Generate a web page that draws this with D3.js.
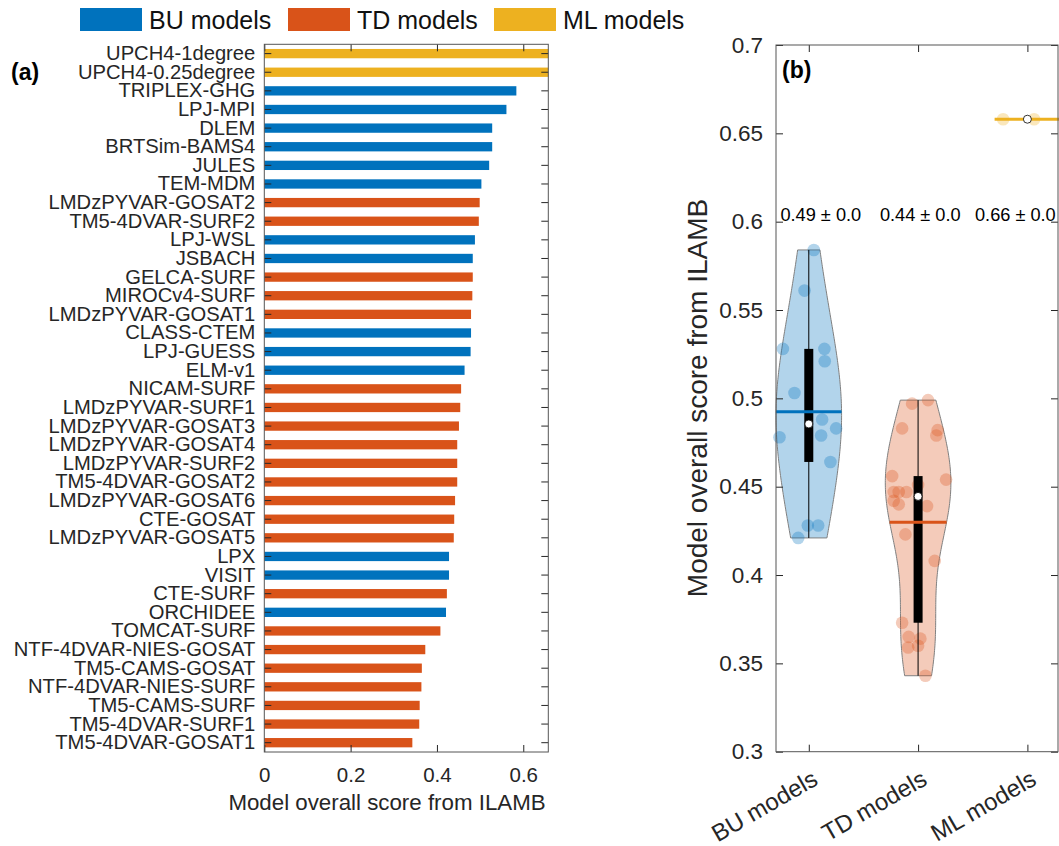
<!DOCTYPE html>
<html>
<head>
<meta charset="utf-8">
<script src="https://cdn.jsdelivr.net/npm/d3@7"></script>
<style>
body { margin: 0; background: #fff; }
svg { font-family: "Liberation Sans", Arial, Helvetica, sans-serif; }
</style>
</head>
<body>
<svg id="mainsvg" width="1059" height="846"></svg>
<script>
// model names, top to bottom as in panel (a)
var models = ['UPCH4-1degree', 'UPCH4-0.25degree', 'TRIPLEX-GHG', 'LPJ-MPI', 'DLEM', 'BRTSim-BAMS4',
	'JULES', 'TEM-MDM', 'LMDzPYVAR-GOSAT2', 'TM5-4DVAR-SURF2', 'LPJ-WSL', 'JSBACH', 'GELCA-SURF',
	'MIROCv4-SURF', 'LMDzPYVAR-GOSAT1', 'CLASS-CTEM', 'LPJ-GUESS', 'ELM-v1', 'NICAM-SURF',
	'LMDzPYVAR-SURF1', 'LMDzPYVAR-GOSAT3', 'LMDzPYVAR-GOSAT4', 'LMDzPYVAR-SURF2', 'TM5-4DVAR-GOSAT2',
	'LMDzPYVAR-GOSAT6', 'CTE-GOSAT', 'LMDzPYVAR-GOSAT5', 'LPX', 'VISIT', 'CTE-SURF', 'ORCHIDEE',
	'TOMCAT-SURF', 'NTF-4DVAR-NIES-GOSAT', 'TM5-CAMS-GOSAT', 'NTF-4DVAR-NIES-SURF', 'TM5-CAMS-SURF',
	'TM5-4DVAR-SURF1', 'TM5-4DVAR-GOSAT1'];
var scores = [0.658, 0.658, 0.584, 0.561, 0.528, 0.528,
	0.521, 0.503, 0.499, 0.497, 0.488, 0.483, 0.483,
	0.482, 0.479, 0.479, 0.478, 0.464, 0.456,
	0.454, 0.451, 0.447, 0.447, 0.447,
	0.442, 0.440, 0.439, 0.428, 0.428, 0.423, 0.421,
	0.408, 0.373, 0.365, 0.364, 0.360,
	0.359, 0.343];
var groups = ['ML', 'ML', 'BU', 'BU', 'BU', 'BU',
	'BU', 'BU', 'TD', 'TD', 'BU', 'BU', 'TD',
	'TD', 'TD', 'BU', 'BU', 'BU', 'TD',
	'TD', 'TD', 'TD', 'TD', 'TD',
	'TD', 'TD', 'TD', 'BU', 'BU', 'TD', 'BU',
	'TD', 'TD', 'TD', 'TD', 'TD',
	'TD', 'TD'];
// horizontal scatter offset of each model's dot in panel (b)
var jitter = [0.061, -0.222, 0.046, -0.039, -0.237, 0.143,
	0.146, -0.131, 0.091, -0.055, 0.122, 0.25, -0.146,
	0.179, 0.167, 0.113, -0.268, 0.198, -0.237,
	0.256, 0.0, -0.223, -0.177, -0.107,
	-0.223, -0.177, 0.082, -0.009, 0.086, -0.116, -0.097,
	0.152, -0.146, -0.086, 0.021, 0.0,
	-0.091, 0.067];

var groupKeys = ['BU', 'TD', 'ML'];
var groupNames = ['BU models', 'TD models', 'ML models'];
var groupStats = ['0.49 \u00b1 0.0', '0.44 \u00b1 0.0', '0.66 \u00b1 0.0'];
var xTicksA = [0, 0.2, 0.4, 0.6];
var yTicksB = [0.3, 0.35, 0.4, 0.45, 0.5, 0.55, 0.6, 0.65, 0.7];

var colors = {BU: '#0072BD', TD: '#D95319', ML: '#EDB120'};
var textColor = '#262626';
var boxColor = '#555';

var svg = d3.select('#mainsvg');

// legend
var legendX = [80, 288, 494];
var legend = svg.append('g');
groupKeys.forEach(function(k, i) {
	legend.append('rect')
		.attr('x', legendX[i]).attr('y', 8)
		.attr('width', 62).attr('height', 23)
		.attr('fill', colors[k]);
	legend.append('text')
		.attr('x', legendX[i] + 69).attr('y', 29)
		.attr('font-size', 25)
		.attr('fill', '#111')
		.text(groupNames[i]);
});

// ---------- panel (a) ----------
var ax = {left: 264.3, right: 548.3, top: 44.3, bottom: 752};
var xA = d3.scaleLinear().domain([0, d3.max(scores)]).range([ax.left, ax.right]);
var yA = d3.scaleBand().domain(models).range([ax.top, ax.bottom]).paddingInner(0.5).paddingOuter(0.25);

var pa = svg.append('g');
pa.selectAll('.bar')
	.data(models)
	.enter()
	.append('rect')
	.attr('class', 'bar')
	.attr('x', xA(0))
	.attr('y', function(d) {return yA(d);})
	.attr('width', function(d, i) {return xA(scores[i]) - xA(0);})
	.attr('height', yA.bandwidth())
	.attr('fill', function(d, i) {return colors[groups[i]];});

function styleAxis(g, fs) {
	g.select('.domain').remove();
	g.selectAll('.tick line').attr('stroke', textColor);
	g.selectAll('.tick text').attr('fill', textColor).attr('font-size', fs);
	g.attr('font-family', null);
}

pa.append('g')
	.attr('transform', 'translate(' + ax.left + ',0)')
	.call(d3.axisLeft(yA).tickSizeInner(-7).tickSizeOuter(0).tickPadding(9))
	.call(styleAxis, 20.2);
pa.append('g')
	.attr('transform', 'translate(' + ax.right + ',0)')
	.call(d3.axisRight(yA).tickSizeInner(-7).tickSizeOuter(0).tickFormat(''))
	.call(styleAxis, 0);
pa.append('g')
	.attr('transform', 'translate(0,' + ax.bottom + ')')
	.call(d3.axisBottom(xA).tickValues(xTicksA).tickSizeInner(-7).tickSizeOuter(0).tickPadding(15)
		.tickFormat(function(d) {return d === 0 ? '0' : d3.format('.1f')(d);}))
	.call(styleAxis, 20.5);
pa.append('g')
	.attr('transform', 'translate(0,' + ax.top + ')')
	.call(d3.axisTop(xA).tickValues(xTicksA).tickSizeInner(-7).tickSizeOuter(0).tickFormat(''))
	.call(styleAxis, 0);
pa.append('rect')
	.attr('x', ax.left).attr('y', ax.top)
	.attr('width', ax.right - ax.left).attr('height', ax.bottom - ax.top)
	.attr('fill', 'none').attr('stroke', boxColor).attr('stroke-width', 1);

pa.append('text')
	.attr('x', 387).attr('y', 810)
	.attr('text-anchor', 'middle')
	.attr('font-size', 22.3)
	.attr('fill', textColor)
	.text('Model overall score from ILAMB');
pa.append('text')
	.attr('x', 11).attr('y', 80)
	.attr('font-size', 23).attr('font-weight', 'bold')
	.attr('fill', '#000')
	.text('(a)');

// ---------- panel (b) ----------
var bx = {left: 776, right: 1058, top: 45, bottom: 751.7};
var xB = d3.scaleLinear().domain([0.7, 3.28]).range([bx.left, bx.right]);
var yB = d3.scaleLinear().domain([0.3, 0.7]).range([bx.bottom, bx.top]);

function mquantile(sorted, p) { // matlab style quantile
	var n = sorted.length;
	var pos = p * n + 0.5;
	if (pos <= 1) return sorted[0];
	if (pos >= n) return sorted[n - 1];
	var lo = Math.floor(pos);
	return sorted[lo - 1] + (pos - lo) * (sorted[lo] - sorted[lo - 1]);
}

function violinShape(vals) { // gaussian kde, ksdensity default bandwidth, cut at data range
	var n = vals.length;
	var med = d3.median(vals);
	var mad = d3.median(vals, function(v) {return Math.abs(v - med);});
	var u = mad / 0.6745 * Math.pow(4 / (3 * n), 0.2);
	var lo = d3.min(vals), hi = d3.max(vals);
	var pts = d3.range(121).map(function(i) {
		var v = lo + (hi - lo) * i / 120;
		var dens = d3.sum(vals, function(x) {var z = (v - x) / u; return Math.exp(-0.5 * z * z);});
		return {v: v, d: dens};
	});
	var m = d3.max(pts, function(p) {return p.d;});
	pts.forEach(function(p) {p.w = p.d / m * 0.3;});
	return pts;
}

var pb = svg.append('g');
var statsDx = [0.11, 0.02, -0.11];

groupKeys.forEach(function(k, gi) {
	var pos = gi + 1;
	var idx = d3.range(models.length).filter(function(i) {return groups[i] === k;});
	var vals = idx.map(function(i) {return scores[i];});
	var sorted = vals.slice().sort(d3.ascending);
	var lo = sorted[0], hi = sorted[sorted.length - 1];
	var q1 = mquantile(sorted, 0.25), q3 = mquantile(sorted, 0.75);
	var med = d3.median(vals), mean = d3.mean(vals);
	var iqr = q3 - q1;
	var wLo = d3.min(sorted.filter(function(v) {return v >= q1 - 1.5 * iqr;}));
	var wHi = d3.max(sorted.filter(function(v) {return v <= q3 + 1.5 * iqr;}));
	var meanW = 0.3;

	if (hi > lo) {
		var pts = violinShape(vals);
		var area = d3.area()
			.y(function(p) {return yB(p.v);})
			.x0(function(p) {return xB(pos - p.w);})
			.x1(function(p) {return xB(pos + p.w);});
		pb.append('path')
			.attr('d', area(pts))
			.attr('fill', colors[k]).attr('fill-opacity', 0.3)
			.attr('stroke', '#808080').attr('stroke-width', 1);
		var j = d3.bisector(function(p) {return p.v;}).left(pts, mean);
		var a = pts[j - 1], b = pts[j];
		meanW = a.w + (b.w - a.w) * (mean - a.v) / (b.v - a.v);
	}

	pb.selectAll('.dot' + k)
		.data(idx)
		.enter()
		.append('circle')
		.attr('class', 'dot' + k)
		.attr('cx', function(i) {return xB(pos + jitter[i]);})
		.attr('cy', function(i) {return yB(scores[i]);})
		.attr('r', 6.3)
		.attr('fill', colors[k]).attr('fill-opacity', 0.3);

	pb.append('line')
		.attr('x1', xB(pos)).attr('x2', xB(pos))
		.attr('y1', yB(wLo)).attr('y2', yB(wHi))
		.attr('stroke', '#000').attr('stroke-width', 1);
	pb.append('rect')
		.attr('x', xB(pos) - 4.5).attr('width', 9)
		.attr('y', yB(q3)).attr('height', yB(q1) - yB(q3))
		.attr('fill', '#000');
	pb.append('line')
		.attr('x1', xB(pos - meanW)).attr('x2', xB(pos + meanW))
		.attr('y1', yB(mean)).attr('y2', yB(mean))
		.attr('stroke', colors[k]).attr('stroke-width', 3);
	pb.append('circle')
		.attr('cx', xB(pos)).attr('cy', yB(med)).attr('r', 4)
		.attr('fill', '#fff').attr('stroke', '#000').attr('stroke-width', 0.8);

	pb.append('text')
		.attr('x', xB(pos + statsDx[gi])).attr('y', yB(0.6) - 1)
		.attr('text-anchor', 'middle')
		.attr('font-size', 18.2)
		.attr('fill', '#000')
		.text(groupStats[gi]);
});

pb.append('g')
	.attr('transform', 'translate(' + bx.left + ',0)')
	.call(d3.axisLeft(yB).tickValues(yTicksB).tickSizeInner(-7).tickSizeOuter(0).tickPadding(13)
		.tickFormat(function(d) {return String(+d.toFixed(2));}))
	.call(styleAxis, 22.5);
pb.append('g')
	.attr('transform', 'translate(' + bx.right + ',0)')
	.call(d3.axisRight(yB).tickValues(yTicksB).tickSizeInner(-7).tickSizeOuter(0).tickFormat(''))
	.call(styleAxis, 0);
var xAxisB = pb.append('g')
	.attr('transform', 'translate(0,' + bx.bottom + ')')
	.call(d3.axisBottom(xB).tickValues([1, 2, 3]).tickSizeInner(-7).tickSizeOuter(0)
		.tickFormat(function(d) {return groupNames[d - 1];}))
	.call(styleAxis, 24);
xAxisB.selectAll('.tick text')
	.attr('y', 0).attr('dy', null)
	.attr('text-anchor', 'end')
	.attr('transform', 'translate(10,32) rotate(-30)');
pb.append('g')
	.attr('transform', 'translate(0,' + bx.top + ')')
	.call(d3.axisTop(xB).tickValues([1, 2, 3]).tickSizeInner(-7).tickSizeOuter(0).tickFormat(''))
	.call(styleAxis, 0);
pb.append('rect')
	.attr('x', bx.left).attr('y', bx.top)
	.attr('width', bx.right - bx.left).attr('height', bx.bottom - bx.top)
	.attr('fill', 'none').attr('stroke', boxColor).attr('stroke-width', 1);

pb.append('text')
	.attr('transform', 'translate(707,398) rotate(-90)')
	.attr('text-anchor', 'middle')
	.attr('font-size', 28)
	.attr('fill', textColor)
	.text('Model overall score from ILAMB');
pb.append('text')
	.attr('x', 782).attr('y', 78)
	.attr('font-size', 23).attr('font-weight', 'bold')
	.attr('fill', '#000')
	.text('(b)');
</script>
</body>
</html>
